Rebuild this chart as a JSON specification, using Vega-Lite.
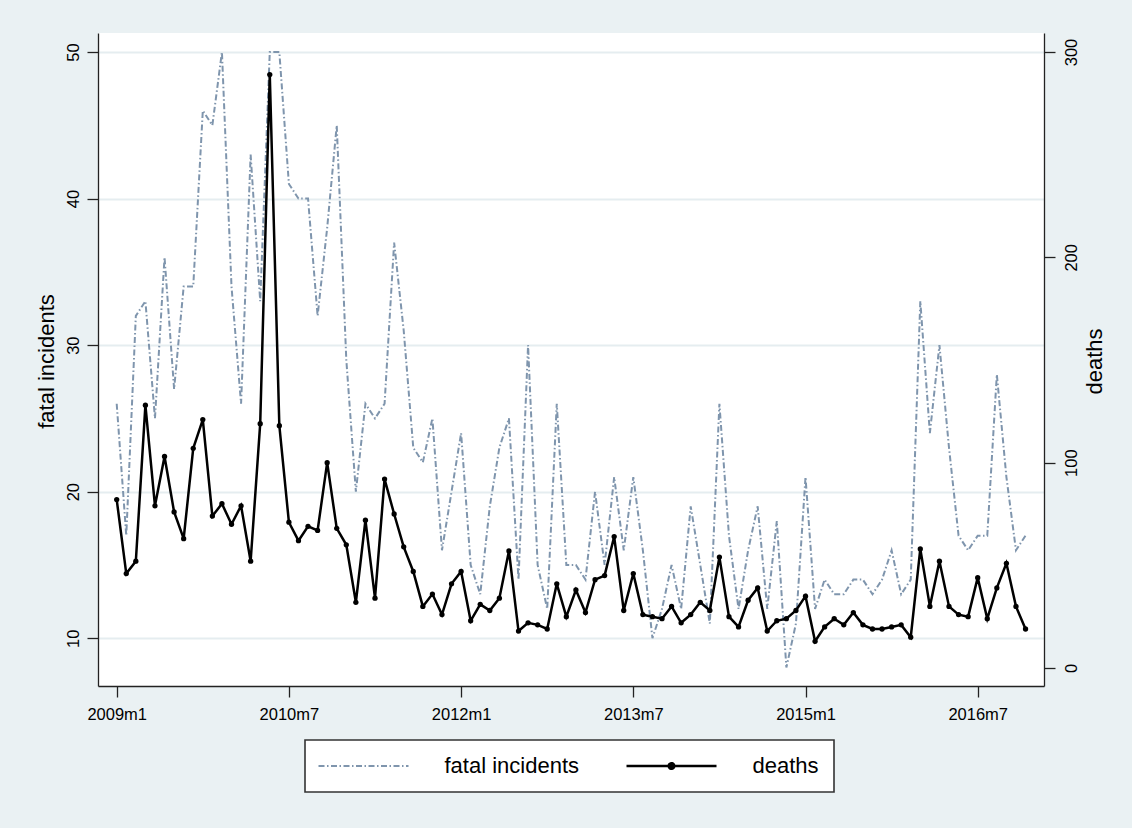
{
  "$schema": "https://vega.github.io/schema/vega-lite/v6.json",
  "width": 946,
  "height": 653,
  "autosize": {"type": "none"},
  "padding": {"left": 98, "top": 33, "right": 88, "bottom": 142},
  "background": "#EAF1F3",
  "config": {
    "view": {"fill": "white", "stroke": null},
    "font": "Liberation Sans",
    "axis": {"labelFont": "Liberation Sans", "titleFont": "Liberation Sans", "labelColor": "#000", "titleColor": "#000", "domainColor": "#222", "domainWidth": 1.3, "tickColor": "#222", "tickWidth": 1.3, "tickSize": 11, "titleFontWeight": "normal"}
  },
  "data": {"values": [
    {"t":0,"month":"2009m1","incidents":26,"deaths":82},
    {"t":1,"month":"2009m2","incidents":17,"deaths":46},
    {"t":2,"month":"2009m3","incidents":32,"deaths":52},
    {"t":3,"month":"2009m4","incidents":33,"deaths":128},
    {"t":4,"month":"2009m5","incidents":25,"deaths":79},
    {"t":5,"month":"2009m6","incidents":36,"deaths":103},
    {"t":6,"month":"2009m7","incidents":27,"deaths":76},
    {"t":7,"month":"2009m8","incidents":34,"deaths":63},
    {"t":8,"month":"2009m9","incidents":34,"deaths":107},
    {"t":9,"month":"2009m10","incidents":46,"deaths":121},
    {"t":10,"month":"2009m11","incidents":45,"deaths":74},
    {"t":11,"month":"2009m12","incidents":50,"deaths":80},
    {"t":12,"month":"2010m1","incidents":34,"deaths":70},
    {"t":13,"month":"2010m2","incidents":26,"deaths":79},
    {"t":14,"month":"2010m3","incidents":43,"deaths":52},
    {"t":15,"month":"2010m4","incidents":33,"deaths":119},
    {"t":16,"month":"2010m5","incidents":50,"deaths":289},
    {"t":17,"month":"2010m6","incidents":50,"deaths":118},
    {"t":18,"month":"2010m7","incidents":41,"deaths":71},
    {"t":19,"month":"2010m8","incidents":40,"deaths":62},
    {"t":20,"month":"2010m9","incidents":40,"deaths":69},
    {"t":21,"month":"2010m10","incidents":32,"deaths":67},
    {"t":22,"month":"2010m11","incidents":38,"deaths":100},
    {"t":23,"month":"2010m12","incidents":45,"deaths":68},
    {"t":24,"month":"2011m1","incidents":29,"deaths":60},
    {"t":25,"month":"2011m2","incidents":20,"deaths":32},
    {"t":26,"month":"2011m3","incidents":26,"deaths":72},
    {"t":27,"month":"2011m4","incidents":25,"deaths":34},
    {"t":28,"month":"2011m5","incidents":26,"deaths":92},
    {"t":29,"month":"2011m6","incidents":37,"deaths":75},
    {"t":30,"month":"2011m7","incidents":31,"deaths":59},
    {"t":31,"month":"2011m8","incidents":23,"deaths":47},
    {"t":32,"month":"2011m9","incidents":22,"deaths":30},
    {"t":33,"month":"2011m10","incidents":25,"deaths":36},
    {"t":34,"month":"2011m11","incidents":16,"deaths":26},
    {"t":35,"month":"2011m12","incidents":20,"deaths":41},
    {"t":36,"month":"2012m1","incidents":24,"deaths":47},
    {"t":37,"month":"2012m2","incidents":15,"deaths":23},
    {"t":38,"month":"2012m3","incidents":13,"deaths":31},
    {"t":39,"month":"2012m4","incidents":19,"deaths":28},
    {"t":40,"month":"2012m5","incidents":23,"deaths":34},
    {"t":41,"month":"2012m6","incidents":25,"deaths":57},
    {"t":42,"month":"2012m7","incidents":14,"deaths":18},
    {"t":43,"month":"2012m8","incidents":30,"deaths":22},
    {"t":44,"month":"2012m9","incidents":15,"deaths":21},
    {"t":45,"month":"2012m10","incidents":12,"deaths":19},
    {"t":46,"month":"2012m11","incidents":26,"deaths":41},
    {"t":47,"month":"2012m12","incidents":15,"deaths":25},
    {"t":48,"month":"2013m1","incidents":15,"deaths":38},
    {"t":49,"month":"2013m2","incidents":14,"deaths":27},
    {"t":50,"month":"2013m3","incidents":20,"deaths":43},
    {"t":51,"month":"2013m4","incidents":15,"deaths":45},
    {"t":52,"month":"2013m5","incidents":21,"deaths":64},
    {"t":53,"month":"2013m6","incidents":16,"deaths":28},
    {"t":54,"month":"2013m7","incidents":21,"deaths":46},
    {"t":55,"month":"2013m8","incidents":16,"deaths":26},
    {"t":56,"month":"2013m9","incidents":10,"deaths":25},
    {"t":57,"month":"2013m10","incidents":12,"deaths":24},
    {"t":58,"month":"2013m11","incidents":15,"deaths":30},
    {"t":59,"month":"2013m12","incidents":12,"deaths":22},
    {"t":60,"month":"2014m1","incidents":19,"deaths":26},
    {"t":61,"month":"2014m2","incidents":15,"deaths":32},
    {"t":62,"month":"2014m3","incidents":11,"deaths":28},
    {"t":63,"month":"2014m4","incidents":26,"deaths":54},
    {"t":64,"month":"2014m5","incidents":17,"deaths":25},
    {"t":65,"month":"2014m6","incidents":12,"deaths":20},
    {"t":66,"month":"2014m7","incidents":16,"deaths":33},
    {"t":67,"month":"2014m8","incidents":19,"deaths":39},
    {"t":68,"month":"2014m9","incidents":12,"deaths":18},
    {"t":69,"month":"2014m10","incidents":18,"deaths":23},
    {"t":70,"month":"2014m11","incidents":8,"deaths":24},
    {"t":71,"month":"2014m12","incidents":11,"deaths":28},
    {"t":72,"month":"2015m1","incidents":21,"deaths":35},
    {"t":73,"month":"2015m2","incidents":12,"deaths":13},
    {"t":74,"month":"2015m3","incidents":14,"deaths":20},
    {"t":75,"month":"2015m4","incidents":13,"deaths":24},
    {"t":76,"month":"2015m5","incidents":13,"deaths":21},
    {"t":77,"month":"2015m6","incidents":14,"deaths":27},
    {"t":78,"month":"2015m7","incidents":14,"deaths":21},
    {"t":79,"month":"2015m8","incidents":13,"deaths":19},
    {"t":80,"month":"2015m9","incidents":14,"deaths":19},
    {"t":81,"month":"2015m10","incidents":16,"deaths":20},
    {"t":82,"month":"2015m11","incidents":13,"deaths":21},
    {"t":83,"month":"2015m12","incidents":14,"deaths":15},
    {"t":84,"month":"2016m1","incidents":33,"deaths":58},
    {"t":85,"month":"2016m2","incidents":24,"deaths":30},
    {"t":86,"month":"2016m3","incidents":30,"deaths":52},
    {"t":87,"month":"2016m4","incidents":23,"deaths":30},
    {"t":88,"month":"2016m5","incidents":17,"deaths":26},
    {"t":89,"month":"2016m6","incidents":16,"deaths":25},
    {"t":90,"month":"2016m7","incidents":17,"deaths":44},
    {"t":91,"month":"2016m8","incidents":17,"deaths":24},
    {"t":92,"month":"2016m9","incidents":28,"deaths":39},
    {"t":93,"month":"2016m10","incidents":21,"deaths":51},
    {"t":94,"month":"2016m11","incidents":16,"deaths":30},
    {"t":95,"month":"2016m12","incidents":17,"deaths":19}
  ]},
  "encoding": {
    "x": {
      "field": "t",
      "type": "quantitative",
      "scale": {"domain": [-1.955, 96.93], "nice": false, "zero": false},
      "axis": {
        "values": [0, 18, 36, 54, 72, 90],
        "labelExpr": "(2009 + floor(datum.value / 12)) + 'm' + (datum.value % 12 + 1)",
        "title": null,
        "grid": false,
        "labelFontSize": 16.5,
        "labelPadding": 9,
        "labelFlush": false
      }
    },
    "color": {
      "scale": {"domain": ["fatal incidents", "deaths"], "range": ["#7F95AD", "#000000"]},
      "legend": {
        "title": null,
        "orient": "none",
        "legendX": 207,
        "legendY": 707,
        "direction": "horizontal",
        "fillColor": "white",
        "strokeColor": "#333",
        "padding": 15,
        "columnPadding": 41,
        "symbolSize": 506.25,
        "symbolStrokeWidth": 2,
        "symbolOffset": 32.5,
        "labelOffset": 70,
        "labelFontSize": 22,
        "labelFont": "Liberation Sans",
        "labelColor": "#000",
        "encode": {
          "legend": {"update": {"strokeWidth": {"value": 1.6}}},
          "symbols": {
            "update": {
              "shape": {"signal": "datum.value === 'deaths' ? 'M-4,0H4M-0.25,0A0.25,0.25,0,1,1,0.25,0A0.25,0.25,0,1,1,-0.25,0Z' : 'M-4,0H4'"},
              "fill": {"signal": "datum.value === 'deaths' ? '#000000' : 'transparent'"},
              "stroke": {"signal": "datum.value === 'deaths' ? '#000000' : '#7F95AD'"},
              "strokeDash": {"signal": "datum.value === 'deaths' ? [1, 0] : [6, 2.5, 1.5, 2.5]"},
              "strokeWidth": {"signal": "datum.value === 'deaths' ? 2.5 : 2"},
              "opacity": {"value": 1}
            }
          }
        }
      }
    }
  },
  "layer": [
    {
      "mark": {"type": "line", "strokeWidth": 2, "strokeDash": [6, 2.5, 1.5, 2.5]},
      "encoding": {
        "y": {
          "field": "incidents",
          "type": "quantitative",
          "scale": {"domain": [6.74, 51.3], "nice": false, "zero": false},
          "axis": {
            "orient": "left",
            "values": [10, 20, 30, 40, 50],
            "grid": true,
            "gridColor": "#E5EDF0",
            "gridWidth": 2,
            "labelAngle": -90,
            "labelAlign": "center",
            "labelBaseline": "alphabetic",
            "labelPadding": 9,
            "labelFontSize": 16.5,
            "title": "fatal incidents",
            "titleFontSize": 22,
            "titleAngle": -90,
            "titleAlign": "center",
            "titleBaseline": "alphabetic",
            "titleX": -45,
            "titleY": 328
          }
        },
        "color": {"datum": "fatal incidents"}
      }
    },
    {
      "mark": {"type": "line", "strokeWidth": 2.5, "point": {"filled": true, "size": 28}},
      "encoding": {
        "y": {
          "field": "deaths",
          "type": "quantitative",
          "scale": {"domain": [-8.77, 309.25], "nice": false, "zero": false},
          "axis": {
            "orient": "right",
            "values": [0, 100, 200, 300],
            "grid": false,
            "labelAngle": -90,
            "labelAlign": "center",
            "labelBaseline": "alphabetic",
            "labelPadding": 21,
            "labelFontSize": 16.5,
            "title": "deaths",
            "titleFontSize": 22,
            "titleAngle": -90,
            "titleAlign": "center",
            "titleBaseline": "alphabetic",
            "titleX": 57,
            "titleY": 328
          }
        },
        "color": {"datum": "deaths"}
      }
    }
  ],
  "resolve": {"scale": {"y": "independent"}}
}
